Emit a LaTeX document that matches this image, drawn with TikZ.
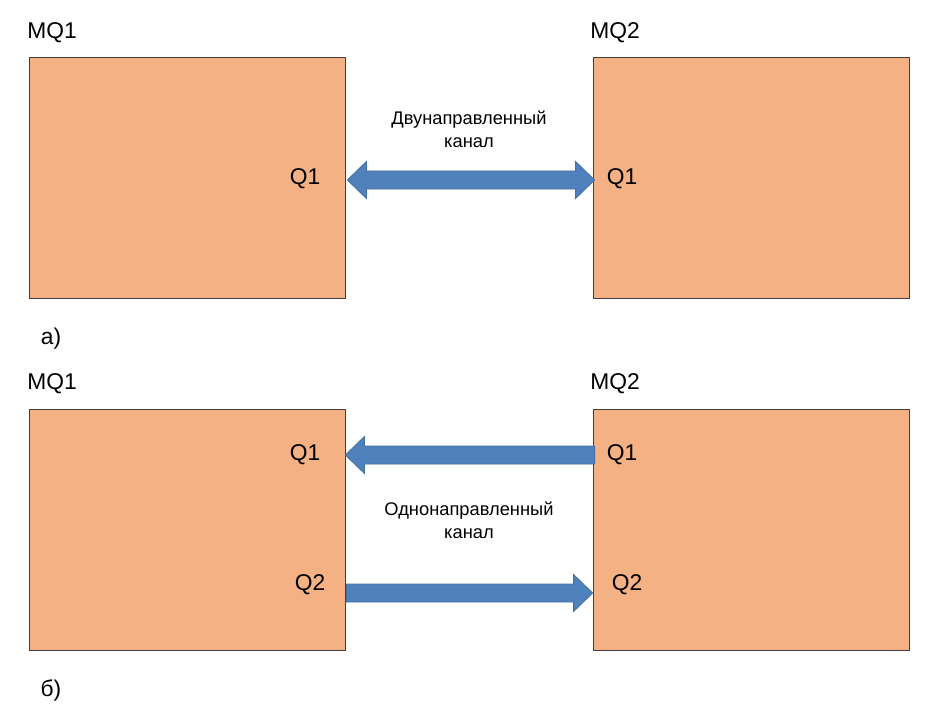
\documentclass[tikz,border=0pt]{standalone}
\usepackage{fontspec}
\setmainfont{Liberation Sans}
\usetikzlibrary{calc}
\definecolor{boxorange}{RGB}{244,177,131}
\definecolor{chanblue}{RGB}{79,129,189}
\definecolor{chanedge}{RGB}{65,113,156}

\begin{document}
\begin{tikzpicture}[x=1pt, y=-1pt,
  mq/.style={draw=black!75, fill=boxorange, minimum width=316pt, minimum height=241pt, inner sep=0pt, line width=0.8pt},
  lbl/.style={font=\fontsize{22.8}{27}\selectfont, inner sep=0pt},
  note/.style={font=\fontsize{18.3}{23}\selectfont, align=center, inner sep=0pt},
  chan/.style={fill=chanblue, draw=chanedge, line width=0.8pt},
  fatboth/.style={chan, to path={
    ($(\tikztostart)$) -- ($(\tikztostart)+(19,-18.5)$) -- ($(\tikztostart)+(19,-9)$)
    -- ($(\tikztotarget)+(-19,-9)$) -- ($(\tikztotarget)+(-19,-18.5)$) -- ($(\tikztotarget)$)
    -- ($(\tikztotarget)+(-19,18.5)$) -- ($(\tikztotarget)+(-19,9)$)
    -- ($(\tikztostart)+(19,9)$) -- ($(\tikztostart)+(19,18.5)$) -- cycle}},
  fatright/.style={chan, to path={
    ($(\tikztostart)+(0,-9)$) -- ($(\tikztotarget)+(-19,-9)$) -- ($(\tikztotarget)+(-19,-18.5)$)
    -- ($(\tikztotarget)$) -- ($(\tikztotarget)+(-19,18.5)$) -- ($(\tikztotarget)+(-19,9)$)
    -- ($(\tikztostart)+(0,9)$) -- cycle}},
  fatleft/.style={chan, to path={
    ($(\tikztostart)+(0,-9)$) -- ($(\tikztotarget)+(19,-9)$) -- ($(\tikztotarget)+(19,-18.5)$)
    -- ($(\tikztotarget)$) -- ($(\tikztotarget)+(19,18.5)$) -- ($(\tikztotarget)+(19,9)$)
    -- ($(\tikztostart)+(0,9)$) -- cycle}}
]
\useasboundingbox (0,0) rectangle (941,714);

% a) bidirectional
\node[mq] (mqa1) at (187,177.5) {};
\node[mq] (mqa2) at (751,177.5) {};
\node[lbl] (ta1) at (52,33) {MQ1};
\node[lbl] (ta2) at (615,33) {MQ2};
\node[lbl] (qa1) at (305,179) {Q1};
\node[lbl] (qa2) at (622,179) {Q1};
\node[note] (bidir) at (469,129) {Двунаправленный\\канал};
\node[lbl] (capa) at (51,339) {a)};

\coordinate (ea1) at ($(mqa1.east |- 0,180)+(2,0)$);
\coordinate (ea2) at ($(mqa2.west |- 0,180)+(2,0)$);
\draw[fatboth] (ea1) to (ea2);

% b) two one-way queues
\node[mq] (mqb1) at (187,530) {};
\node[mq] (mqb2) at (751,530) {};
\node[lbl] (tb1) at (52,384) {MQ1};
\node[lbl] (tb2) at (615,384) {MQ2};
\node[lbl] (qb1) at (305,455) {Q1};
\node[lbl] (qb2) at (310,585) {Q2};
\node[lbl] (qb3) at (622,455) {Q1};
\node[lbl] (qb4) at (627,585) {Q2};
\node[note] (unidir) at (469,520) {Однонаправленный\\канал};
\node[lbl] (capb) at (51,690) {б)};

\coordinate (eb1) at ($(mqb2.west |- 0,455)+(2,0)$);
\coordinate (eb2) at ($(mqb1.east |- 0,455)+(0,0)$);
\coordinate (eb3) at ($(mqb1.east |- 0,593)+(1,0)$);
\coordinate (eb4) at ($(mqb2.west |- 0,593)+(0,0)$);
\draw[fatleft] (eb1) to (eb2);
\draw[fatright] (eb3) to (eb4);
\end{tikzpicture}
\end{document}
